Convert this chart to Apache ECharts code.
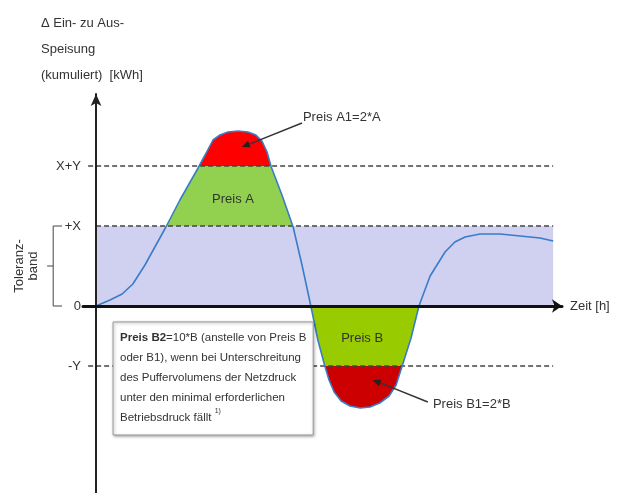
<!DOCTYPE html>
<html><head><meta charset="utf-8">
<script src="https://cdn.jsdelivr.net/npm/echarts@6/dist/echarts.min.js"></script>
<style>html,body{margin:0;padding:0;background:#fff}#c{width:620px;height:493px}</style>
</head><body><div id="c"></div>
<script>
// ---- data (time in arbitrary units, cumulative delta in arbitrary kWh units)
const timeH = [0,3.0,5.6,7.9,10.5,13.1,15.0,18.0,21.9,23.4,25.1,26.6,28.3,30.5,32.6,34.3,35.6,36.7,37.6,39.9,42.3,44.2,46.1,47.6,49.1,50.0,51.1,52.6,54.5,56.7,58.8,60.9,62.9,64.4,65.7,67.6,69.3,71.7,74.9,77.0,79.2,82.4,86.7,91.0,95.3,98.1];
const deltaKWh = [0,0.3,0.6,1.1,2.05,3.15,3.95,5.3,6.9,7.55,8.3,8.55,8.7,8.75,8.7,8.55,8.25,7.7,6.95,5.55,3.95,2.05,0,-1.7,-3.0,-3.7,-4.3,-4.75,-5.0,-5.1,-5.05,-4.85,-4.5,-3.95,-3.0,-1.6,0,1.5,2.7,3.2,3.45,3.6,3.6,3.5,3.4,3.25];
const levelX = 4;
const levelY = 3;
const yTickValues = [levelX + levelY, levelX, 0, -levelY];
const yTickLabels = ['X+Y', '+X', '0', '-Y'];
const timeEnd = 98.1;
const priceLabels = ['Preis A', 'Preis A1=2*A', 'Preis B', 'Preis B1=2*B'];

const FONT = '"Liberation Sans", Arial, sans-serif';
const TXT = '#333';

const regions = [
  {lo: levelX, hi: levelX + levelY, base: 'lo', color: '#92d050'},
  {lo: levelX + levelY, hi: Infinity, base: 'lo', color: '#ff0000'},
  {lo: -levelY, hi: 0, base: 'hi', color: '#99cc00'},
  {lo: -Infinity, hi: -levelY, base: 'hi', color: '#cc0000'}
];

function buildPolys(r) {
  const b = r.base === 'lo' ? r.lo : r.hi;
  const s = r.base === 'lo' ? 1 : -1;
  const levels = [r.lo, r.hi].filter(isFinite);
  const pts = [];
  const n = timeH.length;
  for (let i = 0; i < n; i++) {
    pts.push([timeH[i], deltaKWh[i]]);
    if (i < n - 1) {
      const v0 = deltaKWh[i], v1 = deltaKWh[i + 1];
      const cr = [];
      levels.forEach(L => {
        if ((v0 - L) * (v1 - L) < 0) {
          const f = (L - v0) / (v1 - v0);
          cr.push([timeH[i] + f * (timeH[i + 1] - timeH[i]), L]);
        }
      });
      cr.sort((a, c) => a[0] - c[0]).forEach(p => pts.push(p));
    }
  }
  const clamp = v => Math.min(r.hi, Math.max(r.lo, v));
  const polys = [];
  let run = [];
  const flush = () => {
    if (run.length >= 2) {
      polys.push([[run[0][0], b]].concat(run.map(p => [p[0], clamp(p[1])]), [[run[run.length - 1][0], b]]));
    }
    run = [];
  };
  pts.forEach(p => {
    if (s * (p[1] - b) >= -1e-9) run.push(p); else flush();
  });
  flush();
  return polys;
}

function arrow(api, from, to) {
  const a = api.coord(from), c = api.coord(to);
  const dx = c[0] - a[0], dy = c[1] - a[1];
  const L = Math.sqrt(dx * dx + dy * dy);
  const ux = dx / L, uy = dy / L;
  const hl = 8, hw = 3.5;
  const bx = c[0] - ux * hl, by = c[1] - uy * hl;
  return [
    {type: 'line', shape: {x1: a[0], y1: a[1], x2: bx, y2: by}, style: {stroke: '#333', lineWidth: 1.4}},
    {type: 'polygon', shape: {points: [c, [bx - uy * hw, by + ux * hw], [bx + uy * hw, by - ux * hw]]}, style: {fill: '#222'}}
  ];
}

function txt(p, text, align, extra) {
  return {type: 'text', x: p[0], y: p[1], style: Object.assign({
    text: text, fill: TXT, font: '13px ' + FONT, align: align || 'center', verticalAlign: 'middle'
  }, extra || {})};
}

const chart = echarts.init(document.getElementById('c'), null, {renderer: 'canvas'});
chart.setOption({
  animation: false,
  backgroundColor: '#fff',
  title: {
    text: 'Δ Ein- zu Aus-\nSpeisung\n(kumuliert)  [kWh]',
    left: 36, top: 5,
    textStyle: {fontSize: 13, fontWeight: 'normal', color: TXT, lineHeight: 26, fontFamily: FONT}
  },
  grid: {left: 83, width: 479, top: 94, height: 412, containLabel: false, outerBoundsMode: 'none'},
  xAxis: {
    type: 'value', min: -2.8, max: 100, z: 10,
    axisLine: {show: true, onZero: true, symbol: ['none', 'arrow'], symbolSize: [10, 10], lineStyle: {color: '#111', width: 3}},
    axisTick: {show: false}, axisLabel: {show: false}, splitLine: {show: false},
    name: 'Zeit [h]', nameLocation: 'end', nameGap: 8,
    nameTextStyle: {fontSize: 13, color: TXT, fontFamily: FONT}
  },
  yAxis: {
    type: 'value', min: -10, max: 10.6, interval: 1, z: 10,
    axisLine: {show: true, onZero: true, symbol: ['none', 'arrow'], symbolSize: [8, 12], lineStyle: {color: '#222', width: 2}},
    axisTick: {show: false}, splitLine: {show: false},
    axisLabel: {
      margin: 2, fontSize: 13, color: TXT, fontFamily: FONT,
      formatter: v => { const i = yTickValues.indexOf(v); return i >= 0 ? yTickLabels[i] : ''; }
    }
  },
  series: [
    { // tolerance band
      type: 'custom', z: 1, silent: true, data: [[0, 0]],
      renderItem: (params, api) => {
        const p0 = api.coord([0, levelX]), p1 = api.coord([timeEnd, 0]);
        return {type: 'rect', shape: {x: p0[0], y: p0[1], width: p1[0] - p0[0], height: p1[1] - p0[1]}, style: {fill: '#d0d0f0'}};
      }
    },
    { // price fills
      type: 'custom', z: 2, silent: true, data: regions.map((r, i) => [i, 0]),
      renderItem: (params, api) => {
        const r = regions[params.dataIndex];
        return {type: 'group', children: buildPolys(r).map(poly => ({
          type: 'polygon', shape: {points: poly.map(p => api.coord(p))}, style: {fill: r.color}
        }))};
      }
    },
    { // dashed guide lines
      type: 'custom', z: 3, silent: true, data: yTickValues.filter(v => v !== 0).map(v => [0, v]),
      renderItem: (params, api) => {
        const v = api.value(1);
        const start = v === levelX ? 0 : -1.7;
        const a = api.coord([start, v]), b = api.coord([timeEnd, v]);
        return {type: 'line', shape: {x1: a[0], y1: a[1], x2: b[0], y2: b[1]}, style: {stroke: '#444', lineWidth: 1.3, lineDash: [5, 3]}};
      }
    },
    { // curve
      type: 'line', z: 4, silent: true, symbol: 'none', smooth: false,
      data: timeH.map((t, i) => [t, deltaKWh[i]]),
      lineStyle: {color: '#3a7cc6', width: 1.6}
    },
    { // annotations
      type: 'custom', z: 6, silent: true, data: [[0, 0]],
      renderItem: (params, api) => {
        const ch = [];
        ch.push(txt(api.coord([29.4, 5.35]), priceLabels[0]));
        ch.push(txt(api.coord([44.4, 9.45]), priceLabels[1], 'left'));
        ch.push(txt(api.coord([57.1, -1.6]), priceLabels[2]));
        ch.push(txt(api.coord([72.3, -4.9]), priceLabels[3], 'left'));
        arrow(api, [44.2, 9.15], [31.3, 7.95]).forEach(e => ch.push(e));
        arrow(api, [71.2, -4.8], [59.4, -3.7]).forEach(e => ch.push(e));
        // tolerance bracket
        const t0 = api.coord([-7.3, levelX]), t1 = api.coord([-9.2, levelX]);
        const b0 = api.coord([-7.3, 0]), b1 = api.coord([-9.2, 0]);
        const m0 = api.coord([-9.2, levelX / 2]), m1 = api.coord([-10.5, levelX / 2]);
        ch.push({type: 'polyline', shape: {points: [t0, t1, b1, b0]}, style: {stroke: '#444', lineWidth: 1, fill: null}});
        ch.push({type: 'line', shape: {x1: m0[0], y1: m0[1], x2: m1[0], y2: m1[1]}, style: {stroke: '#444', lineWidth: 1}});
        const tc = api.coord([-15, levelX / 2]);
        ch.push({type: 'text', x: tc[0], y: tc[1], rotation: Math.PI / 2, style: {
          text: 'Toleranz-\nband', fill: TXT, font: '13px ' + FONT, align: 'center', verticalAlign: 'middle', lineHeight: 14
        }});
        // note box
        const bt = api.coord([3.65, -0.8]), bb = api.coord([46.6, -6.45]);
        ch.push({type: 'rect', shape: {x: bt[0], y: bt[1], width: bb[0] - bt[0], height: bb[1] - bt[1]},
          style: {fill: '#fff', stroke: '#999', lineWidth: 1, shadowBlur: 3, shadowColor: 'rgba(0,0,0,0.35)', shadowOffsetX: 1, shadowOffsetY: 1}});
        ch.push({type: 'text', x: bt[0] + 7, y: bt[1] + 6, style: {
          text: '{b|Preis B2}=10*B (anstelle von Preis B\noder B1), wenn bei Unterschreitung\ndes Puffervolumens der Netzdruck\nunter den minimal erforderlichen\nBetriebsdruck fällt {s|1)}',
          fill: TXT, font: '11.5px ' + FONT, align: 'left', verticalAlign: 'top', lineHeight: 20,
          rich: {
            b: {fontWeight: 'bold', fontSize: 11.5, fontFamily: FONT, fill: TXT, lineHeight: 20},
            s: {fontSize: 7, fontFamily: FONT, fill: TXT, verticalAlign: 'top', lineHeight: 20, padding: [0, 0, 6, 0]}
          }
        }});
        return {type: 'group', children: ch};
      }
    }
  ]
});
</script>
</body></html>
